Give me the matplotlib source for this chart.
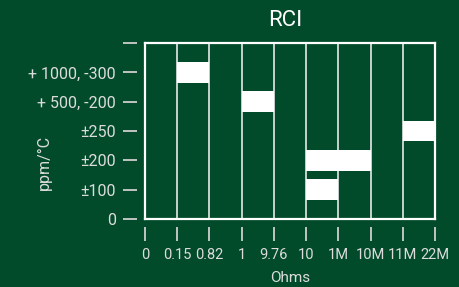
import matplotlib
matplotlib.use("Agg")
import matplotlib.pyplot as plt

# Category labels on both axes
x_labels = ['0', '0.15', '0.82', '1', '9.76', '10', '1M', '10M', '11M', '22M']
y_labels = ['0', '±100', '±200', '±250', '+ 500, -200', '+ 1000, -300', '']

# Bars: (start x label, end x label, y label)
bar_start = ['0.15', '1', '11M', '10', '10']
bar_end = ['0.82', '9.76', '22M', '10M', '1M']
bar_level = ['+ 1000, -300', '+ 500, -200', '±250', '±200', '±100']

bg = '#024b2a'
txt = '#dcdcdc'

plt.rcParams['font.family'] = ['Roboto', 'DejaVu Sans']

fig = plt.figure(figsize=(4.6, 2.87), dpi=100, facecolor=bg)
ax = fig.add_axes([145 / 460, 1 - 219 / 287, 290 / 460, 176 / 287])
ax.set_facecolor(bg)

xi = {lab: i for i, lab in enumerate(x_labels)}
yi = {lab: i for i, lab in enumerate(y_labels)}

# vertical grid lines at each x category
for i in range(1, len(x_labels) - 1):
    ax.axvline(i, color='#e8e8e8', lw=1.2, zorder=1)

# white bars
for s, e, lev in zip(bar_start, bar_end, bar_level):
    y = yi[lev]
    ax.bar(xi[s], 0.7, width=xi[e] - xi[s], bottom=y - 0.35, align='edge',
           color='white', edgecolor='none', zorder=2)

ax.set_xlim(0, len(x_labels) - 1)
ax.set_ylim(0, len(y_labels) - 1)

# frame
for sp in ['top', 'right']:
    ax.spines[sp].set_color('white')
    ax.spines[sp].set_linewidth(1.6)
ax.axvline(0, color='white', lw=1.6, zorder=3, clip_on=False)
ax.axhline(0, color='white', lw=1.6, zorder=3, clip_on=False)

# offset ticks
ax.spines['left'].set_position(('outward', 6))
ax.spines['bottom'].set_position(('outward', 6))
ax.spines['left'].set_color('none')
ax.spines['bottom'].set_color('none')

ax.set_xticks(range(len(x_labels)))
ax.set_xticklabels(x_labels)
ax.set_yticks(range(len(y_labels)))
ax.set_yticklabels(y_labels)
ax.tick_params(axis='both', colors='#cfcfcf', labelcolor=txt, length=10,
               width=1.3, pad=5)
ax.tick_params(axis='y', labelsize=11.5)
ax.tick_params(axis='x', labelsize=10.5)

ax.set_xlabel('Ohms', color=txt, fontsize=11, labelpad=6)
fig.text(44 / 460, 1 - 163 / 287, 'ppm/°C', color=txt, fontsize=11.5,
         rotation=90, ha='center', va='center')
fig.text(285 / 460, 1 - 21 / 287, 'RCI', color='white', fontsize=16,
         ha='center', va='center')

fig.savefig('out.png', dpi=100, facecolor=bg)
